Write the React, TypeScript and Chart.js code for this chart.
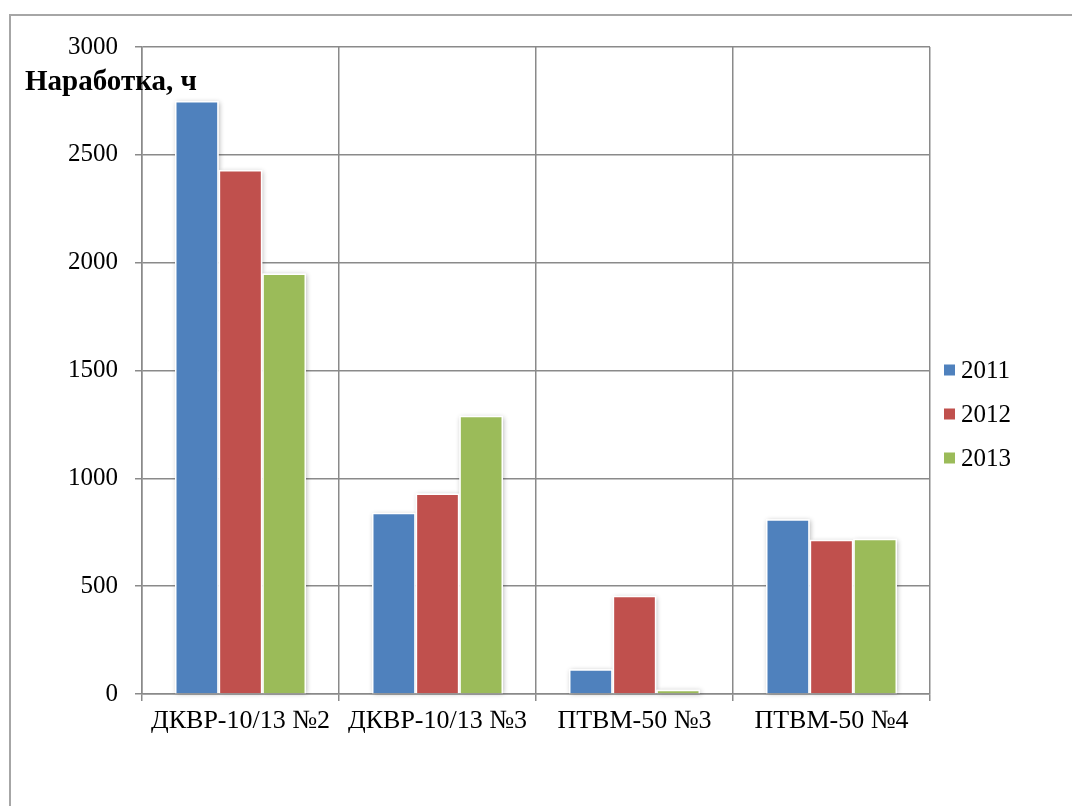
import React, { useEffect, useRef } from "react";
import { Chart, registerables } from "chart.js";

Chart.register(...registerables);

// Boiler names along the category axis
const categories = ["ДКВР-10/13 №2", "ДКВР-10/13 №3", "ПТВМ-50 №3", "ПТВМ-50 №4"];

// Operating hours per year
const years = ["2011", "2012", "2013"];
const hours2011 = [2750, 840, 115, 810];
const hours2012 = [2430, 930, 455, 715];
const hours2013 = [1950, 1290, 20, 720];

const yTicks = [0, 500, 1000, 1500, 2000, 2500, 3000];
const axisTitle = "Наработка, ч";

const seriesColors = ["#4F81BD", "#C0504D", "#9BBB59"];
const gridColor = "#8a8a8a";
const font = "'Liberation Serif', 'Times New Roman', serif";

// Soft grey halo behind every bar
const barShadow = {
  id: "barShadow",
  beforeDatasetsDraw(chart: any) {
    const ctx = chart.ctx;
    ctx.save();
    ctx.shadowColor = "rgba(0,0,0,0.30)";
    ctx.shadowBlur = 5;
    ctx.shadowOffsetX = 1;
    ctx.shadowOffsetY = 1;
    ctx.fillStyle = "#ffffff";
    chart.data.datasets.forEach((_: any, i: number) => {
      const meta = chart.getDatasetMeta(i);
      meta.data.forEach((bar: any) => {
        const { x, y, base, width } = bar.getProps(["x", "y", "base", "width"], true);
        ctx.fillRect(x - width / 2, Math.min(y, base), width, Math.abs(base - y));
      });
    });
    ctx.restore();
  },
};

// Axis caption and the series key on the right
const decorations = {
  id: "decorations",
  afterDraw(chart: any) {
    const ctx = chart.ctx;
    ctx.save();
    ctx.fillStyle = "#000";
    ctx.font = `bold 29px ${font}`;
    ctx.textBaseline = "alphabetic";
    ctx.textAlign = "left";
    ctx.fillText(axisTitle, 25, 90);

    ctx.font = `25px ${font}`;
    ctx.textBaseline = "middle";
    chart.data.datasets.forEach((ds: any, i: number) => {
      const cy = 370 + i * 44;
      ctx.fillStyle = ds.backgroundColor;
      ctx.fillRect(944, cy - 5.5, 11, 11);
      ctx.fillStyle = "#000";
      ctx.fillText(ds.label, 961, cy + 1);
    });
    ctx.restore();
  },
};

export default function App() {
  const canvasRef = useRef<HTMLCanvasElement | null>(null);

  useEffect(() => {
    if (!canvasRef.current) return;
    const seriesValues = [hours2011, hours2012, hours2013];
    const chart = new Chart(canvasRef.current, {
      type: "bar",
      data: {
        labels: categories,
        datasets: years.map((year, i) => ({
          label: year,
          data: seriesValues[i],
          backgroundColor: seriesColors[i],
          borderColor: "#ffffff",
          borderWidth: 1.5,
          categoryPercentage: 0.665,
          barPercentage: 1,
        })),
      },
      options: {
        responsive: false,
        animation: false,
        devicePixelRatio: 1,
        layout: { padding: { top: 47, right: 142, left: 0, bottom: 0 } },
        plugins: {
          legend: { display: false },
          tooltip: { enabled: false },
          title: { display: false },
        },
        scales: {
          x: {
            offset: true,
            grid: {
              display: true,
              offset: true,
              color: gridColor,
              lineWidth: 1.5,
              tickLength: 7,
              drawOnChartArea: true,
            },
            border: { display: true, color: gridColor, width: 1.5 },
            ticks: {
              color: "#000",
              font: { family: font, size: 26 },
              padding: 5,
              autoSkip: false,
              maxRotation: 0,
              minRotation: 0,
            },
            afterFit(scale: any) {
              scale.height = 112;
            },
          },
          y: {
            min: 0,
            max: 3000,
            afterBuildTicks(scale: any) {
              scale.ticks = yTicks.map((v) => ({ value: v }));
            },
            grid: {
              color: gridColor,
              lineWidth: 1.5,
              tickLength: 7,
            },
            border: { display: true, color: gridColor, width: 1.5 },
            ticks: {
              color: "#000",
              font: { family: font, size: 25 },
              padding: 17,
              callback: (value: any) => String(value),
            },
            afterFit(scale: any) {
              scale.width = 142;
            },
          },
        },
      },
      plugins: [barShadow, decorations],
    });
    return () => chart.destroy();
  }, []);

  return (
    <div
      style={{
        position: "absolute",
        left: 0,
        top: 0,
        width: 1072,
        height: 806,
        overflow: "hidden",
        background: "#fff",
      }}
    >
      <div
        style={{
          position: "absolute",
          left: 9,
          top: 14,
          width: 1200,
          height: 1000,
          borderLeft: "2px solid #a6a6a6",
          borderTop: "2px solid #a6a6a6",
        }}
      />
      <canvas
        ref={canvasRef}
        width={1072}
        height={806}
        style={{ position: "absolute", left: 0, top: 0 }}
      />
    </div>
  );
}
